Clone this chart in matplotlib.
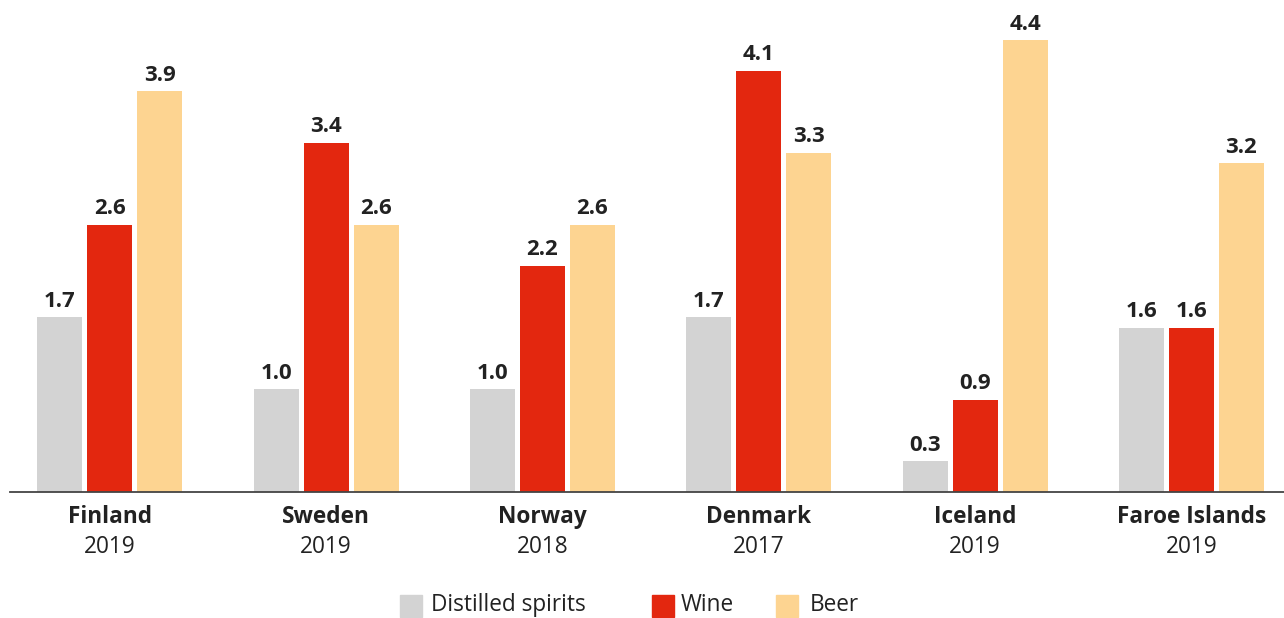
import matplotlib.pyplot as plt
from matplotlib.patches import Rectangle
import numpy as np

countries = ['Finland', 'Sweden', 'Norway', 'Denmark', 'Iceland', 'Faroe Islands']
years = ['2019', '2019', '2018', '2017', '2019', '2019']
series = ['Distilled spirits', 'Wine', 'Beer']
spirits = [1.7, 1.0, 1.0, 1.7, 0.3, 1.6]
wine = [2.6, 3.4, 2.2, 4.1, 0.9, 1.6]
beer = [3.9, 2.6, 2.6, 3.3, 4.4, 3.2]
colors = ['#d3d3d3', '#e3270f', '#fdd491']

plt.rcParams['font.family'] = ['Open Sans', 'DejaVu Sans']
text_color = '#222222'

fig = plt.figure(figsize=(12.84, 6.18), dpi=100)
ax = fig.add_axes([10 / 1284, 126 / 618, 1274 / 1284, 492 / 618])

x = np.arange(len(countries))
width = 0.208
step = 0.231
for i, (vals, col) in enumerate(zip([spirits, wine, beer], colors)):
    bars = ax.bar(x + (i - 1) * step, vals, width, color=col, zorder=2)
    for b, v in zip(bars, vals):
        ax.annotate(f'{v:.1f}', (b.get_x() + b.get_width() / 2, v),
                    xytext=(0, 4), textcoords='offset points',
                    ha='center', va='bottom', fontsize=16, fontweight='bold',
                    color=text_color)

ax.set_xlim(-0.462, 5.428)
ax.set_ylim(0, 4.79)
for s in ['top', 'right', 'left']:
    ax.spines[s].set_visible(False)
ax.spines['bottom'].set_color('#444444')
ax.spines['bottom'].set_linewidth(1.3)
ax.spines['bottom'].set_zorder(3)
ax.set_yticks([])
ax.set_xticks([])

# category labels under the axis
for xi, name, yr in zip(x, countries, years):
    ax.annotate(name, (xi, 0), xytext=(0, -18), textcoords='offset points',
                ha='center', va='center', fontsize=16.3, fontweight='bold',
                color=text_color)
    ax.annotate(yr, (xi, 0), xytext=(0, -39.5), textcoords='offset points',
                ha='center', va='center', fontsize=16.3, color=text_color)

# legend
W, H = 1284, 618
leg_y = 606
sq_x = [400, 652, 776]
txt_x = [431, 681, 810]
for sx, tx, lab, col in zip(sq_x, txt_x, series, colors):
    fig.patches.append(Rectangle((sx / W, (H - leg_y - 11) / H), 22 / W, 22 / H,
                                 transform=fig.transFigure, color=col))
    fig.text(tx / W, (H - leg_y + 1) / H, lab, ha='left', va='center',
             fontsize=16.3, color=text_color)

fig.savefig('out.png', dpi=100)
